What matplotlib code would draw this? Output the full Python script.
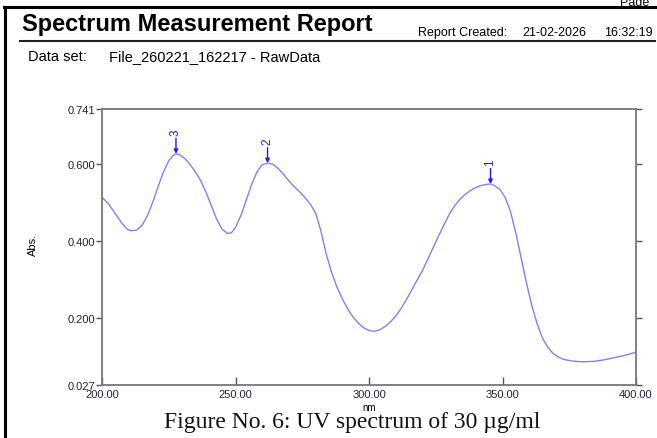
import matplotlib.pyplot as plt
from matplotlib.lines import Line2D

# wavelength (nm) and absorbance
nm = [200, 202.5, 205, 207.5, 209.5, 211, 213, 215, 217, 219,
      221, 223, 225, 226.5, 227.7, 229, 231, 233, 235, 237,
      239, 241, 243, 245, 247, 248.5, 250, 252, 254, 256,
      258, 260, 262, 264, 266, 268, 270, 272, 274, 276,
      278, 280, 282, 284, 286, 288, 290, 292, 294, 296,
      298, 300, 302, 304, 306, 308, 310, 312, 314, 316,
      318, 320, 322, 324, 326, 328, 330, 332, 334, 336,
      338, 340, 342, 344, 345.5, 347, 349, 351, 353, 355,
      357, 359, 361, 363, 365, 367, 369, 371, 373, 376,
      380, 384, 388, 392, 396, 400]
absorb = [0.513, 0.495, 0.470, 0.445, 0.430, 0.426, 0.428, 0.440, 0.465, 0.500,
          0.540, 0.578, 0.607, 0.620, 0.625, 0.623, 0.613, 0.597, 0.578, 0.555,
          0.525, 0.490, 0.455, 0.430, 0.419, 0.421, 0.435, 0.465, 0.505, 0.545,
          0.578, 0.597, 0.601, 0.598, 0.587, 0.572, 0.555, 0.540, 0.527, 0.512,
          0.495, 0.472, 0.425, 0.365, 0.318, 0.280, 0.250, 0.224, 0.203, 0.187,
          0.175, 0.168, 0.166, 0.170, 0.178, 0.190, 0.205, 0.225, 0.248, 0.273,
          0.298, 0.323, 0.352, 0.382, 0.412, 0.440, 0.468, 0.490, 0.507, 0.520,
          0.530, 0.538, 0.543, 0.546, 0.547, 0.543, 0.533, 0.512, 0.475, 0.420,
          0.355, 0.290, 0.232, 0.185, 0.148, 0.124, 0.108, 0.099, 0.093, 0.089,
          0.087, 0.088, 0.092, 0.098, 0.104, 0.112]

# picked peaks: label, wavelength, absorbance
peak_labels = ['1', '2', '3']
peak_nm = [345.5, 262, 227.7]
peak_abs = [0.547, 0.601, 0.625]

yticks = [0.027, 0.200, 0.400, 0.600, 0.741]
xticks = [200, 250, 300, 350, 400]

plt.rcParams['font.family'] = ['Liberation Sans', 'DejaVu Sans']

fig = plt.figure(figsize=(6.57, 4.39), dpi=100)
W, H = 657, 439

def fx(px):
    return px / W

def fy(py):
    return 1 - py / H

# page frame and header rule
fig.add_artist(Line2D([fx(4), fx(657)], [fy(8), fy(8)], color='black', lw=2.2))
fig.add_artist(Line2D([fx(5), fx(5)], [fy(8), fy(439)], color='black', lw=2.2))
fig.add_artist(Line2D([fx(20), fx(655)], [fy(42), fy(42)], color='#222222', lw=1.5))

fig.text(fx(22), fy(25), 'Spectrum Measurement Report', fontsize=17,
         fontweight='bold', va='center', ha='left')
fig.text(fx(418), fy(33), 'Report Created:', fontsize=9, va='center', ha='left')
fig.text(fx(522), fy(33), '21-02-2026', fontsize=9, va='center', ha='left')
fig.text(fx(604), fy(33), '16:32:19', fontsize=9, va='center', ha='left')
fig.text(fx(620), fy(3), 'Page', fontsize=9, va='center', ha='left')
fig.text(fx(28), fy(57), 'Data set:', fontsize=10.5, va='center', ha='left')
fig.text(fx(109), fy(57), 'File_260221_162217 - RawData', fontsize=10.5,
         va='center', ha='left')

ax = fig.add_axes([fx(102), fy(386), fx(636) - fx(102), fy(110) - fy(386)])
ax.plot(nm, absorb, color='#8080ff', lw=1.0)

for lab, px, py in zip(peak_labels, peak_nm, peak_abs):
    ax.annotate('', xy=(px, py), xytext=(px, py + 0.04),
                arrowprops=dict(arrowstyle='-|>', color='#1a1aff', lw=1.0,
                                mutation_scale=6, shrinkA=0, shrinkB=0))
    ax.text(px, py + 0.05, lab, rotation=90, color='#1a1aff', fontsize=8.5,
            ha='center', va='bottom')

ax.set_xlim(200, 400)
ax.set_ylim(0.027, 0.741)
ax.set_xticks(xticks)
ax.set_xticklabels(['%.2f' % t for t in xticks])
ax.set_yticks(yticks)
ax.set_yticklabels(['%.3f' % t for t in yticks])
ax.tick_params(axis='x', direction='in', length=6, width=1, color='#555555',
               labelsize=8, pad=3, labelcolor='#222244')
ax.tick_params(axis='y', direction='out', length=4, width=1, color='#555555',
               labelsize=8, pad=1, labelcolor='#222222', right=True)
for s in ax.spines.values():
    s.set_color('#777777')
    s.set_linewidth(1.3)

fig.text(fx(33), fy(245), 'Abs.', fontsize=8, rotation=90, ha='center', va='center')
fig.text(fx(369), fy(408), 'nm', fontsize=7, ha='center', va='center')

fig.text(fx(352), fy(423), 'Figure No. 6: UV spectrum of 30 \u00b5g/ml',
         family=['Liberation Serif', 'DejaVu Serif'], fontsize=17,
         ha='center', va='center', color='#111111')

fig.savefig('out.png', dpi=100)
